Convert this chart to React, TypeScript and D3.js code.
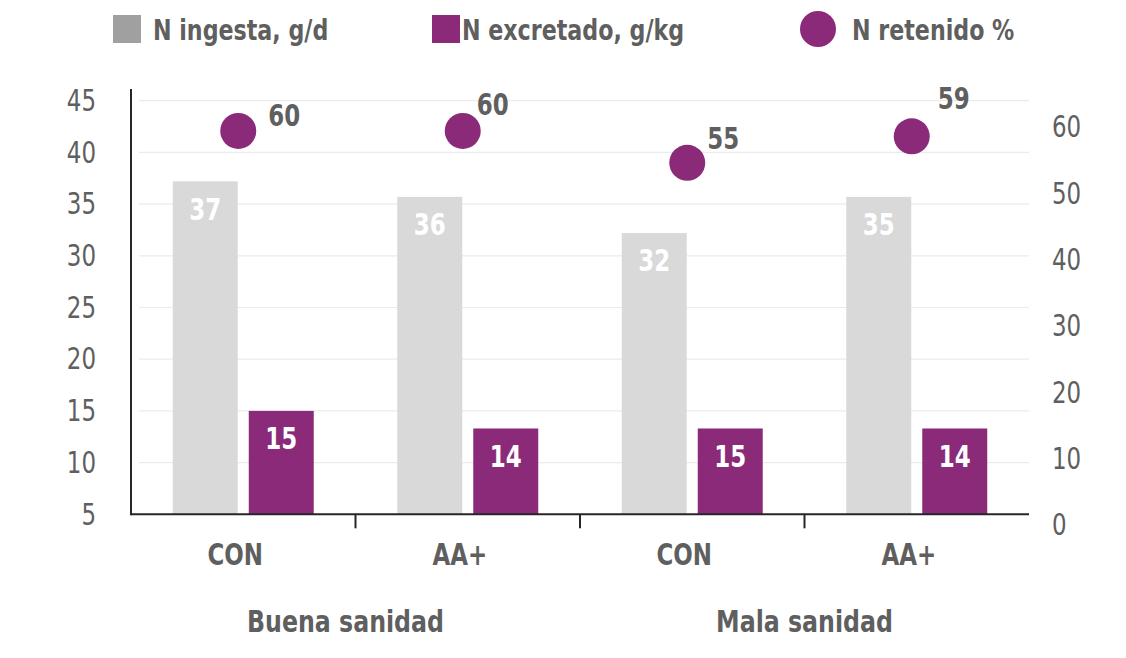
import React from "react";
import * as d3 from "d3";

const categories = ["CON", "AA+", "CON", "AA+"];
const groups = ["Buena sanidad", "Mala sanidad"];
const nIngesta = [37.2, 35.7, 32.2, 35.7];
const nIngestaLabels = ["37", "36", "32", "35"];
const nExcretado = [15.0, 13.3, 13.3, 13.3];
const nExcretadoLabels = ["15", "14", "15", "14"];
const nRetenido = [59.4, 59.4, 54.6, 58.6];
const nRetenidoLabels = ["60", "60", "55", "59"];
const leftTicks = [5, 10, 15, 20, 25, 30, 35, 40, 45];
const rightTicks = [0, 10, 20, 30, 40, 50, 60];
const legendItems = ["N ingesta, g/d", "N excretado, g/kg", "N retenido %"];

// layout (not data): offsets for the point labels relative to the dot centre
const dotLabelOffsets: [number, number][] = [
  [30, -15],
  [14, -26],
  [20, -24],
  [26, -38],
];

const W = 1126;
const H = 658;
const FONT = "'DejaVu Sans Condensed', 'Liberation Sans Narrow', sans-serif";
const TEXT = "#5f5f5f";
const GRAY = "#d9d9d9";
const GRAY_LEG = "#a0a0a0";
const PURPLE = "#8a2a79";
const SX = 0.85;

type TProps = {
  x: number;
  y: number;
  anchor?: "start" | "middle" | "end";
  size?: number;
  bold?: boolean;
  fill?: string;
  children: React.ReactNode;
};

function T({ x, y, anchor = "start", size = 30, bold = false, fill = TEXT, children }: TProps) {
  return (
    <text
      transform={`translate(${x},${y}) scale(${SX},1)`}
      textAnchor={anchor}
      dominantBaseline="central"
      fontSize={size}
      fontWeight={bold ? "bold" : "normal"}
      fill={fill}
    >
      {children}
    </text>
  );
}

export default function App() {
  const x0 = 131;
  const x1 = 1029;
  const yBase = 514.3;

  const idx = categories.map((_, i) => String(i));
  const xBand = d3.scaleBand<string>().domain(idx).range([x0, x1]).paddingInner(0.372).paddingOuter(0.186);
  const xSub = d3.scaleBand<string>().domain(["ing", "exc"]).range([0, xBand.bandwidth()]).paddingInner(0.145);
  const yL = d3.scaleLinear().domain([5, 45]).range([yBase, 100.7]);
  const yR = d3.scaleLinear().domain([0, 60]).range([525, 127]);

  const center = (i: number) => (xBand(String(i)) as number) + xBand.bandwidth() / 2;
  const step = xBand.step();
  const boundaries = [1, 2, 3].map((i) => x0 + step * i);

  return (
    <svg width={W} height={H} style={{ position: "absolute", left: 0, top: 0, background: "#fff" }} fontFamily={FONT}>
      {/* legend */}
      <g>
        <rect x={113} y={15} width={28} height={28} fill={GRAY_LEG} />
        <T x={153} y={30} size={29} bold>{legendItems[0]}</T>
        <rect x={432} y={15} width={28} height={28} fill={PURPLE} />
        <T x={462} y={30} size={29} bold>{legendItems[1]}</T>
        <circle cx={818} cy={29} r={18} fill={PURPLE} />
        <T x={852} y={30} size={29} bold>{legendItems[2]}</T>
      </g>

      {/* gridlines */}
      {leftTicks.slice(1).map((t) => (
        <line key={"g" + t} x1={139} x2={x1} y1={yL(t)} y2={yL(t)} stroke="#ebebeb" strokeWidth={1.2} />
      ))}

      {/* left tick labels */}
      {leftTicks.map((t) => (
        <T key={"l" + t} x={96} y={yL(t)} anchor="end">{t}</T>
      ))}
      {/* right tick labels */}
      {rightTicks.map((t) => (
        <T key={"r" + t} x={1052} y={yR(t)}>{t}</T>
      ))}

      {/* bars */}
      {categories.map((c, i) => {
        const bx = xBand(String(i)) as number;
        const gx = bx + (xSub("ing") as number);
        const px = bx + (xSub("exc") as number);
        const bw = xSub.bandwidth();
        return (
          <g key={"b" + i}>
            <rect x={gx} y={yL(nIngesta[i])} width={bw} height={yBase - yL(nIngesta[i])} fill={GRAY} />
            <rect x={px} y={yL(nExcretado[i])} width={bw} height={yBase - yL(nExcretado[i])} fill={PURPLE} />
            <T x={gx + bw / 2} y={yL(nIngesta[i]) + 28} anchor="middle" size={30} bold fill="#fff">{nIngestaLabels[i]}</T>
            <T x={px + bw / 2} y={yL(nExcretado[i]) + 28} anchor="middle" size={30} bold fill="#fff">{nExcretadoLabels[i]}</T>
          </g>
        );
      })}

      {/* axes */}
      <line x1={x0} x2={x0} y1={89} y2={yBase + 1} stroke="#262626" strokeWidth={2} />
      <line x1={x0} x2={x1} y1={yBase} y2={yBase} stroke="#262626" strokeWidth={2} />
      {boundaries.map((b, i) => (
        <line key={"t" + i} x1={b} x2={b} y1={yBase} y2={yBase + 14} stroke="#262626" strokeWidth={2} />
      ))}

      {/* dots */}
      {nRetenido.map((v, i) => (
        <g key={"d" + i}>
          <circle cx={center(i) - 5} cy={yR(v)} r={18} fill={PURPLE} />
          <T x={center(i) - 5 + dotLabelOffsets[i][0]} y={yR(v) + dotLabelOffsets[i][1]} size={30} bold>{nRetenidoLabels[i]}</T>
        </g>
      ))}

      {/* category labels */}
      {categories.map((c, i) => (
        <T key={"c" + i} x={center(i) - 8} y={555} anchor="middle" size={30} bold>{c}</T>
      ))}
      {groups.map((g, gi) => (
        <T key={"gr" + gi} x={(center(gi * 2) + center(gi * 2 + 1)) / 2 - (gi === 0 ? 10 : 0)} y={621} anchor="middle" size={31} bold>{g}</T>
      ))}
    </svg>
  );
}
